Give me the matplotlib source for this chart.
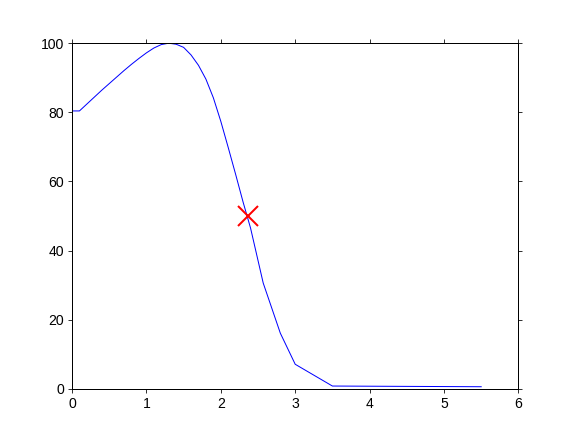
import matplotlib
matplotlib.use('Agg')
import matplotlib.pyplot as plt

# scan positions and normalised signal
xaxis = [0.0, 0.1, 0.2, 0.3, 0.4, 0.5, 0.6, 0.7, 0.8, 0.9, 1.0, 1.1, 1.2,
         1.3, 1.4, 1.5, 1.6, 1.7, 1.8, 1.9, 2.0, 2.1, 2.2, 2.3, 2.4, 2.57,
         2.8, 3.0, 3.5, 5.5]
data = [80.4, 80.4, 82.4, 84.4, 86.4, 88.3, 90.2, 92.1, 93.9, 95.6, 97.2,
        98.6, 99.6, 100.0, 99.7, 98.8, 96.6, 93.6, 89.6, 84.2, 77.4, 69.8,
        62.0, 54.0, 46.5, 30.6, 16.1, 7.1, 0.8, 0.6]

center = 2.365
amplitude = 100.0

plt.rcParams['font.family'] = ['Liberation Sans', 'DejaVu Sans']

fig = plt.figure(figsize=(8, 6), dpi=72)
ax = fig.add_subplot(111)
fig.subplots_adjust(left=0.125, right=0.9, bottom=0.1, top=0.9)

ax.plot(xaxis, data, color='blue', linewidth=1)
ax.plot(center, amplitude / 2, marker='x', color='red', markersize=20,
        markeredgewidth=2, linestyle='none')

ax.set_xlim(0, 6)
ax.set_ylim(0, 100)
ax.set_xticks([0, 1, 2, 3, 4, 5, 6])
ax.set_yticks([0, 20, 40, 60, 80, 100])
ax.tick_params(direction='out', length=4, width=0.8, top=True, right=True,
               labelsize=14, pad=4)
for s in ax.spines.values():
    s.set_linewidth(1)

fig.savefig('out.png', dpi=72)
